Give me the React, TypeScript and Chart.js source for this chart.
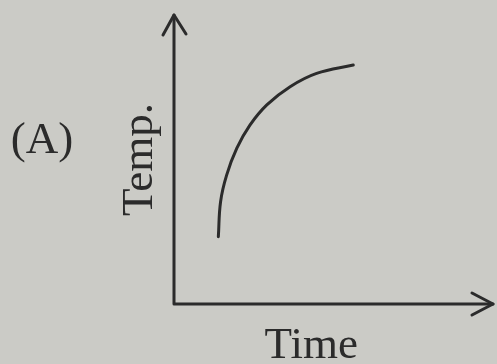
import React, { useEffect, useRef } from "react";
import { Chart, registerables } from "chart.js";

Chart.register(...registerables);

// Curve (arbitrary units, axes run 0..10)
const timeValues = [1.39, 1.46, 1.65, 1.97, 2.38, 2.91, 3.64, 4.47, 5.62];
const tempValues = [2.33, 3.54, 4.46, 5.39, 6.19, 6.89, 7.52, 7.98, 8.27];
const xTitle = "Time";
const yTitle = "Temp.";
const panelLabel = "(A)";

const INK = "#2b2b2b";
const PAPER = "#cbcbc6";
const FONT = "45px 'Liberation Serif', 'Times New Roman', serif";

const sketchPlugin = {
  id: "sketch",
  beforeDraw(chart: any) {
    const { ctx, width, height } = chart;
    ctx.save();
    ctx.fillStyle = PAPER;
    ctx.fillRect(0, 0, width, height);
    ctx.restore();
  },
  afterDraw(chart: any) {
    const { ctx } = chart;
    const xs = chart.scales.x;
    const ys = chart.scales.y;
    const ox = xs.getPixelForValue(xs.min);
    const oy = ys.getPixelForValue(ys.min);
    const xEnd = xs.getPixelForValue(xs.max);
    const yEnd = ys.getPixelForValue(ys.max);
    ctx.save();
    ctx.strokeStyle = INK;
    ctx.lineWidth = 3;
    ctx.lineCap = "round";
    ctx.lineJoin = "round";
    // axes
    ctx.beginPath();
    ctx.moveTo(ox, yEnd);
    ctx.lineTo(ox, oy);
    ctx.lineTo(xEnd, oy);
    ctx.stroke();
    // arrow heads
    ctx.beginPath();
    ctx.moveTo(ox - 11, yEnd + 20);
    ctx.lineTo(ox, yEnd);
    ctx.lineTo(ox + 12, yEnd + 19);
    ctx.stroke();
    ctx.beginPath();
    ctx.moveTo(xEnd - 21, oy - 11);
    ctx.lineTo(xEnd, oy);
    ctx.lineTo(xEnd - 21, oy + 11);
    ctx.stroke();
    // texts
    ctx.fillStyle = INK;
    ctx.font = FONT;
    ctx.textAlign = "center";
    ctx.textBaseline = "alphabetic";
    ctx.fillText(xTitle, xs.getPixelForValue(4.3), oy + 54);
    ctx.fillText(panelLabel, 42, 153);
    ctx.translate(ox - 22, ys.getPixelForValue(5.0));
    ctx.rotate(-Math.PI / 2);
    ctx.fillText(yTitle, 0, 0);
    ctx.restore();
  },
};

export default function App() {
  const ref = useRef<HTMLCanvasElement | null>(null);
  useEffect(() => {
    if (!ref.current) return;
    const chart = new Chart(ref.current, {
      type: "line",
      data: {
        datasets: [
          {
            data: timeValues.map((t, i) => ({ x: t, y: tempValues[i] })),
            borderColor: INK,
            borderWidth: 3,
            pointRadius: 0,
            tension: 0.4,
            borderCapStyle: "round",
            fill: false,
          },
        ],
      },
      options: {
        responsive: false,
        animation: false,
        events: [],
        layout: { padding: { left: 174, right: 4, top: 15, bottom: 60 } },
        plugins: { legend: { display: false }, title: { display: false }, tooltip: { enabled: false } },
        scales: {
          x: { type: "linear", min: 0, max: 10, display: false },
          y: { type: "linear", min: 0, max: 10, display: false },
        },
      },
      plugins: [sketchPlugin],
    });
    return () => chart.destroy();
  }, []);
  return (
    <div style={{ position: "fixed", left: 0, top: 0, width: 497, height: 364, background: PAPER }}>
      <canvas ref={ref} width={497} height={364} />
    </div>
  );
}
